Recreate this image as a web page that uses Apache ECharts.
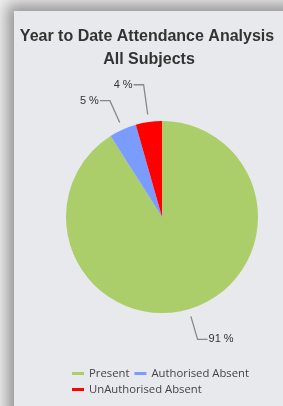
<!DOCTYPE html>
<html><head><meta charset="utf-8">
<script src="https://cdn.jsdelivr.net/npm/echarts@6/dist/echarts.min.js"></script>
<style>
html,body{margin:0;padding:0;width:283px;height:406px;overflow:hidden;background:#f0f0f0;}
#panel{position:absolute;left:14px;top:11px;width:300px;height:420px;background:#e8e9ed;box-shadow:0 0 14px 7px rgba(0,0,0,0.38);}
#chart{position:absolute;left:0;top:0;width:283px;height:406px;}
</style></head>
<body><div id="panel"></div><div id="chart"></div>
<script>
const titleLines = ['Year to Date Attendance Analysis', 'All Subjects'];
const categories = ['Present', 'Authorised Absent', 'UnAuthorised Absent'];
const values = [91.0, 4.6, 4.4];
const colors = ['#abce6b', '#7b9cff', '#ff0000'];

const chart = echarts.init(document.getElementById('chart'), null, {renderer: 'canvas'});
const pieData = categories.map((c, i) => ({name: c, value: values[i]}));
const labelData = categories.map((c, i) => ({
  name: c, value: values[i],
  labelLine: i === 2 ? {length: 30} : undefined
}));
const titleFont = 'bold 16px "Liberation Sans", Arial, sans-serif';
chart.setOption({
  animation: false,
  backgroundColor: 'transparent',
  color: colors,
  graphic: [
    {type: 'text', x: 147, y: 37, style: {text: titleLines[0], font: titleFont, fill: '#333', textAlign: 'center', textVerticalAlign: 'middle'}},
    {type: 'text', x: 149, y: 60, style: {text: titleLines[1], font: titleFont, fill: '#333', textAlign: 'center', textVerticalAlign: 'middle'}}
  ],
  legend: {
    data: categories,
    left: 72, top: 368, width: 200,
    icon: 'rect', itemWidth: 12, itemHeight: 3, itemGap: 5,
    textStyle: {fontFamily: 'Open Sans', fontSize: 11.3, color: '#444', lineHeight: 9},
    padding: 0
  },
  series: [
    {
      type: 'pie', center: [162, 217], radius: 96, startAngle: 90, clockwise: true,
      data: pieData, label: {show: false}, labelLine: {show: false}, silent: true
    },
    {
      type: 'pie', center: [162, 217], radius: 103.5, startAngle: 90, clockwise: true,
      data: labelData, silent: true, legendHoverLink: false, avoidLabelOverlap: false,
      itemStyle: {color: 'rgba(0,0,0,0)'},
      label: {
        show: true, position: 'outside',
        formatter: p => Math.round(p.percent) + ' %',
        fontFamily: 'Liberation Sans, Arial', fontSize: 11, color: '#333', distanceToLabelLine: 1
      },
      labelLine: {show: true, length: 24, length2: 10, lineStyle: {color: '#888', width: 1.3}}
    }
  ]
});
</script></body></html>
